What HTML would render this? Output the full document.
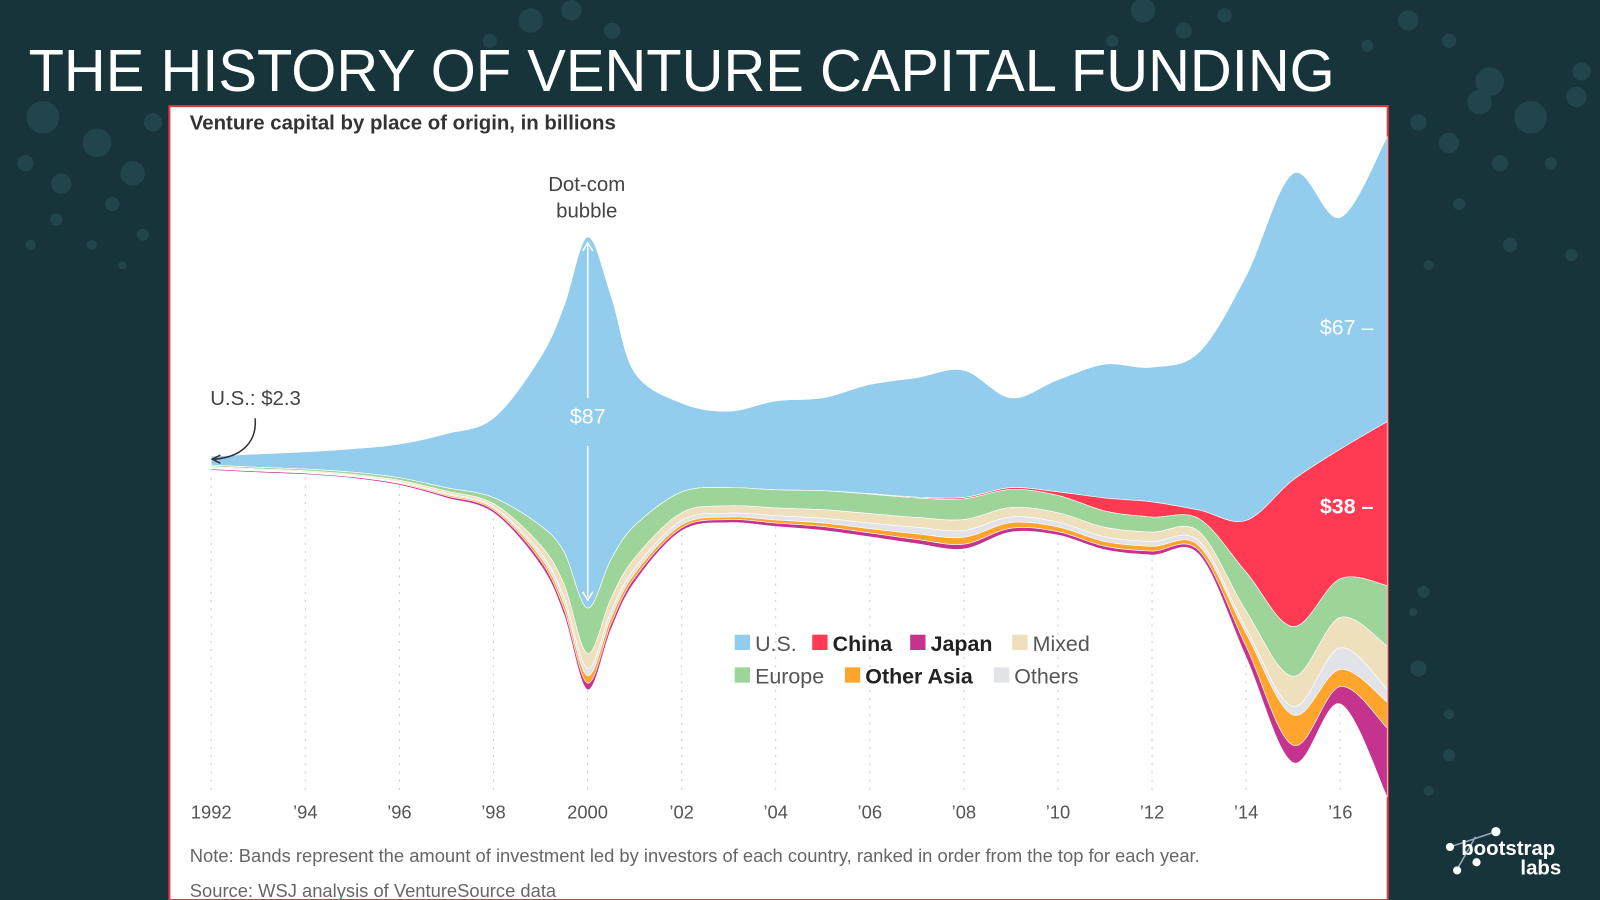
<!DOCTYPE html>
<html><head><meta charset="utf-8">
<style>
html,body{margin:0;padding:0;background:#17343a;width:1600px;height:900px;overflow:hidden}
svg{display:block}
text{font-family:"Liberation Sans",sans-serif}
</style></head>
<body>
<svg id="chart" width="1600" height="900" viewBox="0 0 1568 882" preserveAspectRatio="none" xmlns="http://www.w3.org/2000/svg">
<rect x="0" y="0" width="1568" height="882" fill="#17343a"/>
<g id="bubbles" fill="#21454a"></g>
<text x="28" y="89" font-size="58" fill="#ffffff" textLength="1280" lengthAdjust="spacingAndGlyphs">THE HISTORY OF VENTURE CAPITAL FUNDING</text>
<rect x="166" y="104" width="1194" height="778" fill="#ffffff" stroke="#e8343f" stroke-width="2"/>
<text x="186" y="127" font-size="20" font-weight="bold" fill="#333">Venture capital by place of origin, in billions</text>
<g id="grid"></g>
<g id="bands"></g>
<g id="xaxis"></g>
<text x="575" y="187" font-size="20" fill="#444" text-anchor="middle">Dot-com</text>
<text x="575" y="213" font-size="20" fill="#444" text-anchor="middle">bubble</text>
<line x1="576" y1="240" x2="576" y2="390" stroke="#fff" stroke-width="1.5"/>
<path d="M571 246 L576 238 L581 246" fill="none" stroke="#fff" stroke-width="1.5"/>
<line x1="576" y1="437" x2="576" y2="585" stroke="#fff" stroke-width="1.5"/>
<path d="M571 580 L576 588 L581 580" fill="none" stroke="#fff" stroke-width="1.5"/>
<text x="576" y="415" font-size="21" fill="#fff" text-anchor="middle">$87</text>
<text x="206" y="397" font-size="20" fill="#444">U.S.: $2.3</text>
<path d="M250 410 C252 432 238 448 210 450" fill="none" stroke="#333" stroke-width="1.5"/>
<path d="M216 446 L208 450 L216 454" fill="none" stroke="#333" stroke-width="1.5"/>
<text x="1346" y="328" font-size="21" fill="#fff" text-anchor="end">$67 –</text>
<text x="1346" y="503" font-size="21" font-weight="bold" fill="#fff" text-anchor="end">$38 –</text>
<g id="legend"></g>
<text x="186" y="845" font-size="18" fill="#666">Note: Bands represent the amount of investment led by investors of each country, ranked in order from the top for each year.</text>
<text x="186" y="879" font-size="18" fill="#666">Source: WSJ analysis of VentureSource data</text>
<g>
<line x1="1421" y1="830" x2="1466" y2="815" stroke="#9ab" stroke-width="1.5"/>
<line x1="1428" y1="852" x2="1446" y2="820" stroke="#9ab" stroke-width="1.5"/>
<circle cx="1421" cy="830" r="4" fill="#fff"/><circle cx="1466" cy="815" r="4.5" fill="#fff"/>
<circle cx="1428" cy="853" r="4" fill="#fff"/><circle cx="1447" cy="845" r="4" fill="#fff"/>
<text x="1432" y="838" font-size="20" font-weight="bold" fill="#fff">bootstrap</text>
<text x="1530" y="857" font-size="20" font-weight="bold" fill="#fff" text-anchor="end">labs</text>
</g>
</svg>
<script>
const years = [1992,1993,1994,1995,1996,1997,1998,1999,1999.5,2000,2000.5,2001,2002,2003,2004,2005,2006,2007,2008,2009,2010,2011,2012,2013,2014,2015,2016,2017];
const streamTop = [0.7,1.2,1.7,2.4,3.5,5.9,9.5,23.6,35.5,51.5,37.8,20.1,13,11.1,13.5,14.2,17.3,18.9,20.6,14.2,18.4,22,21.3,24.8,42.5,66.2,56,74.7];
const usVals = [2.1,3.1,4.0,5.4,7.8,12.5,18.4,39,57,86,61,35.5,20.6,17.7,20.6,21.5,25.3,27.7,29.5,20.8,26,31,31.2,36.6,56.7,71,53.7,66];
const chinaVals = [0,0,0,0,0,0,0,0,0,0,0,0,0,0,0,0,0.1,0.2,0.3,0.4,0.8,3,3.5,2,12,34,30,38];
const europeVals = [0.3,0.35,0.4,0.5,0.6,0.8,1.4,4.5,7.5,10.5,9,7.5,4.8,4.2,4.2,4.4,4.5,4.5,4.8,4.2,4,3.8,3.5,3,9,11.5,9,14];
const mixedVals = [0.25,0.25,0.25,0.3,0.35,0.5,0.7,1.8,3,3.5,3,2.4,1.8,1.7,1.8,2,2.2,2.3,2.5,2.2,2.2,2.2,2.2,2.2,4,7,7,10];
const othersVals = [0.15,0.15,0.15,0.15,0.2,0.3,0.4,1,1.5,1.7,1.5,1.2,1,0.9,1,1.1,1.3,1.5,1.6,1.3,1.1,1.1,1.1,1.1,1.2,2,5,3];
const otherAsiaVals = [0.15,0.15,0.15,0.15,0.2,0.3,0.4,0.8,1.3,1.7,1.4,1,0.7,0.6,0.7,0.8,1,1.3,1.6,1.3,1.1,1.1,1.1,1.1,3,7,4,6];
const japanVals = [0.3,0.3,0.3,0.3,0.35,0.45,0.6,1,1.3,1.5,1.3,1,0.7,0.7,0.8,0.9,0.9,1,1.1,0.9,0.8,0.8,0.9,0.9,2.5,4,4,16];
const seriesNames = ["U.S.","China","Europe","Mixed","Others","Other Asia","Japan"];
const seriesKeys = ["us","china","europe","mixed","others","other-asia","japan"];
const seriesColors = ["#92cdee","#ff3a52","#9cd49a","#efe0bd","#e2e3e8","#ffa42c","#c5338f"];
const seriesVals = [usVals,chinaVals,europeVals,mixedVals,othersVals,otherAsiaVals,japanVals];
const tickYears = [1992,1994,1996,1998,2000,2002,2004,2006,2008,2010,2012,2014,2016];
const tickLabels = ["1992","’94","’96","’98","2000","’02","’04","’06","’08","’10","’12","’14","’16"];

const NS = "http://www.w3.org/2000/svg";
const xScale = y => 207 + (y - 1992) * 46.1;
const K = 4.23, Y0 = 450;
const yScale = v => Y0 - v * K;

function spline(pts){
  let d = "";
  for (let i = 0; i < pts.length - 1; i++){
    const p0 = pts[Math.max(0,i-1)], p1 = pts[i], p2 = pts[i+1], p3 = pts[Math.min(pts.length-1,i+2)];
    const c1x = p1[0] + (p2[0]-p0[0])/6, c1y = p1[1] + (p2[1]-p0[1])/6;
    const c2x = p2[0] - (p3[0]-p1[0])/6, c2y = p2[1] - (p3[1]-p1[1])/6;
    d += " C" + c1x.toFixed(1)+" "+c1y.toFixed(1)+" "+c2x.toFixed(1)+" "+c2y.toFixed(1)+" "+p2[0].toFixed(1)+" "+p2[1].toFixed(1);
  }
  return d;
}

const grid = document.getElementById("grid"), xaxis = document.getElementById("xaxis");
tickYears.forEach((t,i) => {
  const l = document.createElementNS(NS,"line");
  l.setAttribute("x1",xScale(t)); l.setAttribute("x2",xScale(t));
  l.setAttribute("y1",460); l.setAttribute("y2",775);
  l.setAttribute("stroke","#ccc"); l.setAttribute("stroke-dasharray","2 6");
  
  
  grid.appendChild(l);
  const tx = document.createElementNS(NS,"text");
  tx.setAttribute("x",xScale(t)); tx.setAttribute("y",802);
  tx.setAttribute("font-size","18"); tx.setAttribute("fill","#555"); tx.setAttribute("text-anchor","middle");
  tx.textContent = tickLabels[i];
  
  
  xaxis.appendChild(tx);
});

const bands = document.getElementById("bands");
let cum = streamTop.slice();
seriesVals.forEach((vals,s) => {
  const top = years.map((y,i) => [xScale(y), yScale(cum[i])]);
  const next = cum.map((c,i) => c - vals[i]);
  const bot = years.map((y,i) => [xScale(y), yScale(next[i])]).reverse();
  const d = "M" + top[0][0]+" "+top[0][1] + spline(top) + " L" + bot[0][0]+" "+bot[0][1] + spline(bot) + " Z";
  const p = document.createElementNS(NS,"path");
  p.setAttribute("d", d);
  p.setAttribute("fill", seriesColors[s]);
  p.setAttribute("stroke", "#fff"); p.setAttribute("stroke-width","0.6");
  
  
  bands.appendChild(p);
  cum = next;
});

const legend = document.getElementById("legend");
const legendItems = [[0,720,630,false],[1,796,630,true],[6,892,630,true],[3,992,630,false],[2,720,662,false],[5,828,662,true],[4,974,662,false]];
legendItems.forEach(([s,x,y,bold]) => {
  const r = document.createElementNS(NS,"rect");
  r.setAttribute("x",x); r.setAttribute("y",y-8); r.setAttribute("width",15); r.setAttribute("height",15);
  r.setAttribute("fill",seriesColors[s]);
  
  
  legend.appendChild(r);
  const t = document.createElementNS(NS,"text");
  t.setAttribute("x",x+20); t.setAttribute("y",y+8);
  t.setAttribute("font-size","21"); t.setAttribute("fill", bold ? "#222" : "#555");
  if (bold) t.setAttribute("font-weight","bold");
  t.textContent = seriesNames[s];
  
  
  legend.appendChild(t);
});

const bub = document.getElementById("bubbles");
const bubbleSpots = [[42,115,16],[95,140,14],[60,180,10],[130,170,12],[25,160,8],[150,120,9],[110,200,7],[55,215,6],[90,240,5],[140,230,6],[30,240,5],[120,260,4],
[1450,100,12],[1500,115,16],[1545,95,10],[1420,140,10],[1470,160,8],[1390,120,8],[1520,160,6],[1430,200,6],[1480,240,7],[1540,250,6],[1400,260,5],[1460,80,14],[1550,70,9],
[1390,655,8],[1420,700,5],[1395,580,6],[1420,740,6],[1400,775,5],[1385,600,4],
[520,20,12],[560,10,10],[600,30,8],[480,40,7],[1120,10,12],[1160,30,8],[1090,40,6],[1200,15,7],[1380,20,10],[1420,40,7],[1340,45,6]];
bubbleSpots.forEach(([x,y,r]) => {
  const c = document.createElementNS(NS,"circle");
  c.setAttribute("cx",x); c.setAttribute("cy",y); c.setAttribute("r",r);
  
  
  bub.appendChild(c);
});
</script>
</body></html>
